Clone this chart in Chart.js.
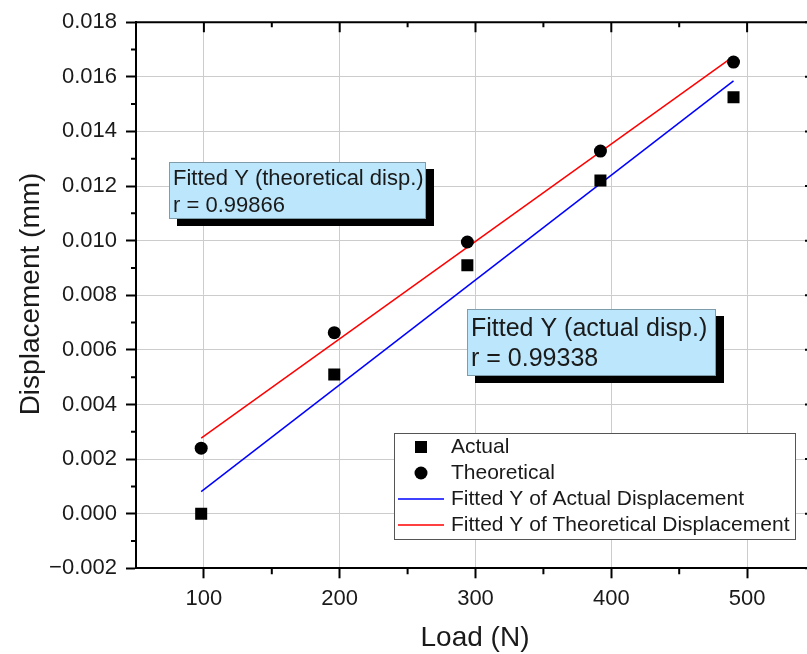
<!DOCTYPE html>
<html>
<head>
<meta charset="utf-8">
<script src="https://cdn.jsdelivr.net/npm/chart.js@4.4.1/dist/chart.umd.min.js"></script>
<style>
  html, body { margin: 0; padding: 0; background: #fff; overflow: hidden; }
  canvas { display: block; }
</style>
</head>
<body>
<canvas id="chart" width="825" height="654"></canvas>
<script>
// Load values (N) and measured displacements (mm)
const loads = [98, 196, 294, 392, 490];
const actualDisp = [0.0000, 0.0051, 0.0091, 0.0122, 0.01525];
const theoreticalDisp = [0.0024, 0.00663, 0.00995, 0.01328, 0.01654];

// Fitted lines, end points
const fitX = [98, 490];
const fitActual = [0.00081, 0.01585];
const fitTheoretical = [0.00277, 0.01675];

const xTicks = [100, 200, 300, 400, 500];
const xMinor = [150, 250, 350, 450];
const yTicks = [-0.002, 0, 0.002, 0.004, 0.006, 0.008, 0.010, 0.012, 0.014, 0.016, 0.018];
const yMinor = [-0.001, 0.001, 0.003, 0.005, 0.007, 0.009, 0.011, 0.013, 0.015, 0.017];

const annotations = [
    { lines: ['Fitted Y (theoretical disp.)', 'r = 0.99866'], box: [169, 162, 257, 57], size: 22, base: [185, 212] },
    { lines: ['Fitted Y (actual disp.)', 'r = 0.99338'], box: [467, 309, 249, 67], size: 25, base: [336, 366] }
];

const legendItems = [
    { label: 'Actual', kind: 'rect' },
    { label: 'Theoretical', kind: 'circle' },
    { label: 'Fitted Y of Actual Displacement', kind: 'line', color: '#0000ff' },
    { label: 'Fitted Y of Theoretical Displacement', kind: 'line', color: '#ff0000' }
];

const FONT = '"Liberation Sans", Arial, sans-serif';
const toPts = (xs, ys) => xs.map((x, i) => ({ x: x, y: ys[i] }));

const framePlugin = {
    id: 'frame',
    afterDraw(chart) {
        const ctx = chart.ctx;
        const a = chart.chartArea;
        const xs = chart.scales.x, ys = chart.scales.y;
        ctx.save();
        ctx.strokeStyle = '#000';
        ctx.lineWidth = 2;
        // top and right axis lines
        ctx.beginPath();
        ctx.moveTo(a.left, a.top); ctx.lineTo(a.right, a.top);
        ctx.moveTo(a.right, a.top); ctx.lineTo(a.right, a.bottom);
        ctx.stroke();

        ctx.beginPath();
        // major ticks, inward on top/right
        xTicks.forEach(v => {
            const px = xs.getPixelForValue(v);
            ctx.moveTo(px, a.top); ctx.lineTo(px, a.top + 10);
        });
        yTicks.forEach(v => {
            const py = ys.getPixelForValue(v);
            ctx.moveTo(a.right, py); ctx.lineTo(a.right - 10, py);
        });
        // minor ticks
        xMinor.forEach(v => {
            const px = xs.getPixelForValue(v);
            ctx.moveTo(px, a.bottom); ctx.lineTo(px, a.bottom + 6);
            ctx.moveTo(px, a.top); ctx.lineTo(px, a.top + 5);
        });
        yMinor.forEach(v => {
            const py = ys.getPixelForValue(v);
            ctx.moveTo(a.left, py); ctx.lineTo(a.left - 5, py);
            ctx.moveTo(a.right, py); ctx.lineTo(a.right - 5, py);
        });
        ctx.stroke();

        // axis titles
        ctx.fillStyle = '#1a1a1a';
        ctx.font = '28px ' + FONT;
        ctx.textAlign = 'center';
        ctx.textBaseline = 'alphabetic';
        ctx.fillText('Load (N)', 475, 646);
        ctx.save();
        ctx.translate(39, 294);
        ctx.rotate(-Math.PI / 2);
        ctx.fillText('Displacement (mm)', 0, 0);
        ctx.restore();

        // annotation boxes with drop shadow
        annotations.forEach(an => {
            const [bx, by, bw, bh] = an.box;
            ctx.fillStyle = '#000';
            ctx.fillRect(bx + 8, by + 7, bw, bh);
            ctx.fillStyle = '#bce6fb';
            ctx.fillRect(bx, by, bw, bh);
            ctx.lineWidth = 1;
            ctx.strokeStyle = '#7f9cab';
            ctx.strokeRect(bx + 0.5, by + 0.5, bw - 1, bh - 1);
            ctx.fillStyle = '#1a1a1a';
            ctx.font = an.size + 'px ' + FONT;
            ctx.textAlign = 'left';
            an.lines.forEach((t, i) => ctx.fillText(t, bx + 4, an.base[i]));
        });

        // legend
        const lx = 394, ly = 433, lw = 401, lh = 106;
        ctx.fillStyle = '#fff';
        ctx.fillRect(lx, ly, lw, lh);
        ctx.strokeStyle = '#555';
        ctx.lineWidth = 1;
        ctx.strokeRect(lx + 0.5, ly + 0.5, lw, lh);
        ctx.font = '21px ' + FONT;
        ctx.textBaseline = 'middle';
        legendItems.forEach((it, i) => {
            const cy = 447 + i * 26;
            ctx.fillStyle = '#000';
            if (it.kind === 'rect') {
                ctx.fillRect(415, cy - 6, 12, 12);
            } else if (it.kind === 'circle') {
                ctx.beginPath();
                ctx.arc(421, cy, 6.5, 0, Math.PI * 2);
                ctx.fill();
            } else {
                ctx.strokeStyle = it.color;
                ctx.lineWidth = 1.5;
                ctx.beginPath();
                ctx.moveTo(398, cy); ctx.lineTo(444, cy);
                ctx.stroke();
            }
            ctx.fillStyle = '#1a1a1a';
            ctx.fillText(it.label, 451, cy);
        });
        ctx.restore();
    }
};

new Chart(document.getElementById('chart'), {
    type: 'scatter',
    data: {
        datasets: [
            {
                label: 'Actual',
                data: toPts(loads, actualDisp),
                pointStyle: 'rect',
                pointRadius: 8.5,
                backgroundColor: '#000',
                borderColor: '#000',
                borderWidth: 0
            },
            {
                label: 'Theoretical',
                data: toPts(loads, theoreticalDisp),
                pointStyle: 'circle',
                pointRadius: 6.5,
                backgroundColor: '#000',
                borderColor: '#000',
                borderWidth: 0
            },
            {
                label: 'Fitted Y of Actual Displacement',
                data: toPts(fitX, fitActual),
                showLine: true,
                pointRadius: 0,
                borderColor: '#0000ff',
                borderWidth: 1.5
            },
            {
                label: 'Fitted Y of Theoretical Displacement',
                data: toPts(fitX, fitTheoretical),
                showLine: true,
                pointRadius: 0,
                borderColor: '#ff0000',
                borderWidth: 1.5
            }
        ]
    },
    options: {
        responsive: false,
        animation: false,
        devicePixelRatio: 1,
        layout: { padding: { left: 0, right: 10, top: 20.7, bottom: 0 } },
        plugins: { legend: { display: false }, tooltip: { enabled: false } },
        scales: {
            x: {
                type: 'linear',
                min: 50,
                max: 550,
                afterBuildTicks: s => { s.ticks = xTicks.map(v => ({ value: v })); },
                afterFit: s => { s.height = 85.7; },
                grid: { color: '#cccccc', lineWidth: 1, tickColor: '#000', tickLength: 10, tickWidth: 2 },
                border: { display: true, color: '#000', width: 2 },
                ticks: { color: '#1a1a1a', font: { family: FONT, size: 22 }, padding: 7, maxRotation: 0 }
            },
            y: {
                type: 'linear',
                min: -0.002,
                max: 0.018,
                afterBuildTicks: s => { s.ticks = yTicks.map(v => ({ value: v })); },
                afterFit: s => { s.width = 136; },
                grid: { color: '#cccccc', lineWidth: 1, tickColor: '#000', tickLength: 10, tickWidth: 2 },
                border: { display: true, color: '#000', width: 2 },
                ticks: {
                    color: '#1a1a1a',
                    font: { family: FONT, size: 22 },
                    padding: 9,
                    callback: v => (v < 0 ? '\u2212' : '') + Math.abs(v).toFixed(3)
                }
            }
        }
    },
    plugins: [framePlugin]
});
</script>
</body>
</html>
